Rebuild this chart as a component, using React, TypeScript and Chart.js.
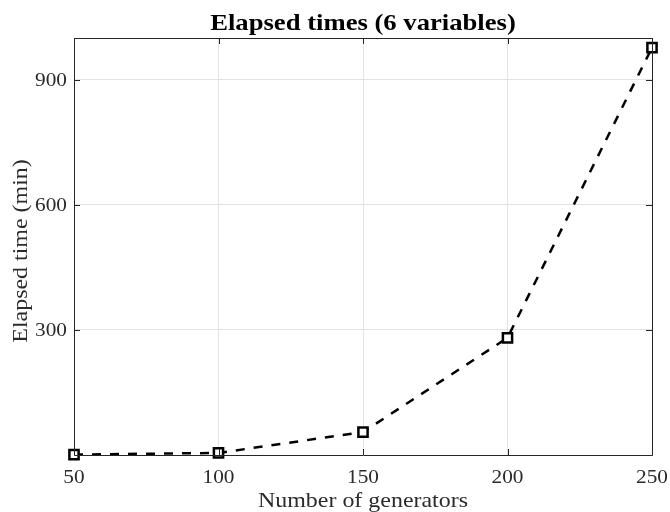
import React, { useEffect, useRef } from "react";
import { Chart, registerables } from "chart.js";

Chart.register(...registerables);

const generators = [50, 100, 150, 200, 250];
const elapsedMinutes = [1, 5, 55, 281, 977];
const xTicks = [50, 100, 150, 200, 250];
const yTicks = [300, 600, 900];
const titleText = "Elapsed times (6 variables)";
const xLabel = "Number of generators";
const yLabel = "Elapsed time (min)";

const FONT = "'Liberation Serif', 'Times New Roman', serif";
const AXIS = "#262626";
const TEXT = "#2b2b2b";

function stretchedText(ctx: CanvasRenderingContext2D, text: string, x: number, y: number, sx: number, align: CanvasTextAlign, rotate = 0) {
  ctx.save();
  ctx.translate(x, y);
  if (rotate) ctx.rotate(rotate);
  ctx.scale(sx, 1);
  ctx.textAlign = align;
  ctx.fillText(text, 0, 0);
  ctx.restore();
}

const framePlugin = {
  id: "frame",
  afterDraw(chart: any) {
    const { ctx, chartArea: a, scales } = chart;
    const xs = scales.x;
    const ys = scales.y;
    ctx.save();
    ctx.strokeStyle = AXIS;
    ctx.lineWidth = 1;
    ctx.beginPath();
    ctx.rect(Math.round(a.left) + 0.5, Math.round(a.top) + 0.5, Math.round(a.right - a.left), Math.round(a.bottom - a.top));
    ctx.stroke();
    const tl = 6;
    ctx.beginPath();
    for (const v of xTicks) {
      const px = Math.round(xs.getPixelForValue(v)) + 0.5;
      ctx.moveTo(px, a.bottom);
      ctx.lineTo(px, a.bottom - tl);
      ctx.moveTo(px, a.top);
      ctx.lineTo(px, a.top + tl);
    }
    for (const v of yTicks) {
      const py = Math.round(ys.getPixelForValue(v)) + 0.5;
      ctx.moveTo(a.left, py);
      ctx.lineTo(a.left + tl, py);
      ctx.moveTo(a.right, py);
      ctx.lineTo(a.right - tl, py);
    }
    ctx.stroke();

    ctx.fillStyle = TEXT;
    ctx.font = `19px ${FONT}`;
    ctx.textBaseline = "alphabetic";
    for (const v of xTicks) {
      stretchedText(ctx, String(v), xs.getPixelForValue(v), 483, 1.12, "center");
    }
    ctx.textBaseline = "middle";
    for (const v of yTicks) {
      stretchedText(ctx, String(v), a.left - 7, ys.getPixelForValue(v) + 1, 1.12, "right");
    }

    const cx = (a.left + a.right) / 2;
    ctx.fillStyle = "#000";
    ctx.font = `bold 24px ${FONT}`;
    ctx.textBaseline = "alphabetic";
    stretchedText(ctx, titleText, cx, 30, 1.11, "center");

    ctx.fillStyle = TEXT;
    ctx.font = `21px ${FONT}`;
    stretchedText(ctx, xLabel, cx, 507, 1.14, "center");
    stretchedText(ctx, yLabel, 27, 251, 1.14, "center", -Math.PI / 2);
    ctx.restore();
  },
};

export default function App() {
  const ref = useRef<HTMLCanvasElement>(null);
  useEffect(() => {
    document.body.style.margin = "0";
    const chart = new Chart(ref.current!, {
      type: "line",
      data: {
        datasets: [
          {
            data: generators.map((g, i) => ({ x: g, y: elapsedMinutes[i] })),
            borderColor: "#000",
            borderWidth: 2.5,
            borderDash: [9, 9],
            pointStyle: "rect",
            pointRadius: 6.5,
            pointBorderWidth: 2.5,
            pointBackgroundColor: "#fff",
            pointBorderColor: "#000",
            tension: 0,
            clip: false as any,
          },
        ],
      },
      options: {
        animation: false,
        responsive: false,
        layout: { padding: { top: 38, right: 18, left: 74, bottom: 57 } },
        plugins: { legend: { display: false }, tooltip: { enabled: false }, title: { display: false } },
        scales: {
          x: {
            type: "linear",
            min: 50,
            max: 250,
            afterBuildTicks: (s: any) => {
              s.ticks = xTicks.map((v) => ({ value: v }));
            },
            afterFit: (s: any) => {
              s.height = 0;
            },
            grid: { color: "#e3e3e3", drawTicks: false },
            border: { display: false },
            ticks: { display: false },
          },
          y: {
            type: "linear",
            min: 0,
            max: 1000,
            afterBuildTicks: (s: any) => {
              s.ticks = yTicks.map((v) => ({ value: v }));
            },
            afterFit: (s: any) => {
              s.width = 0;
            },
            grid: { color: "#e3e3e3", drawTicks: false },
            border: { display: false },
            ticks: { display: false },
          },
        },
      },
      plugins: [framePlugin],
    });
    return () => chart.destroy();
  }, []);
  return (
    <div style={{ width: 670, height: 512 }}>
      <canvas ref={ref} width={670} height={512} style={{ display: "block" }} />
    </div>
  );
}
